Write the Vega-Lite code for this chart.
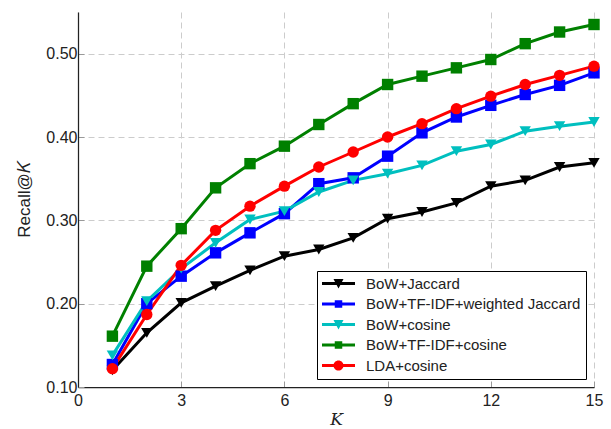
{
  "$schema": "https://vega.github.io/schema/vega-lite/v6.json",
  "width": 516,
  "height": 375,
  "autosize": {"type": "none"},
  "padding": {"left": 78, "top": 12, "right": 17, "bottom": 42},
  "background": "white",
  "config": {"view": {"stroke": null}},
  "data": {"values": [
    {"method": "BoW+Jaccard", "K": 1, "recall": 0.120},
    {"method": "BoW+Jaccard", "K": 2, "recall": 0.165},
    {"method": "BoW+Jaccard", "K": 3, "recall": 0.201},
    {"method": "BoW+Jaccard", "K": 4, "recall": 0.221},
    {"method": "BoW+Jaccard", "K": 5, "recall": 0.240},
    {"method": "BoW+Jaccard", "K": 6, "recall": 0.257},
    {"method": "BoW+Jaccard", "K": 7, "recall": 0.265},
    {"method": "BoW+Jaccard", "K": 8, "recall": 0.279},
    {"method": "BoW+Jaccard", "K": 9, "recall": 0.302},
    {"method": "BoW+Jaccard", "K": 10, "recall": 0.310},
    {"method": "BoW+Jaccard", "K": 11, "recall": 0.321},
    {"method": "BoW+Jaccard", "K": 12, "recall": 0.341},
    {"method": "BoW+Jaccard", "K": 13, "recall": 0.348},
    {"method": "BoW+Jaccard", "K": 14, "recall": 0.364},
    {"method": "BoW+Jaccard", "K": 15, "recall": 0.369},
    {"method": "BoW+TF-IDF+weighted Jaccard", "K": 1, "recall": 0.127},
    {"method": "BoW+TF-IDF+weighted Jaccard", "K": 2, "recall": 0.200},
    {"method": "BoW+TF-IDF+weighted Jaccard", "K": 3, "recall": 0.233},
    {"method": "BoW+TF-IDF+weighted Jaccard", "K": 4, "recall": 0.261},
    {"method": "BoW+TF-IDF+weighted Jaccard", "K": 5, "recall": 0.285},
    {"method": "BoW+TF-IDF+weighted Jaccard", "K": 6, "recall": 0.308},
    {"method": "BoW+TF-IDF+weighted Jaccard", "K": 7, "recall": 0.344},
    {"method": "BoW+TF-IDF+weighted Jaccard", "K": 8, "recall": 0.351},
    {"method": "BoW+TF-IDF+weighted Jaccard", "K": 9, "recall": 0.377},
    {"method": "BoW+TF-IDF+weighted Jaccard", "K": 10, "recall": 0.405},
    {"method": "BoW+TF-IDF+weighted Jaccard", "K": 11, "recall": 0.424},
    {"method": "BoW+TF-IDF+weighted Jaccard", "K": 12, "recall": 0.438},
    {"method": "BoW+TF-IDF+weighted Jaccard", "K": 13, "recall": 0.451},
    {"method": "BoW+TF-IDF+weighted Jaccard", "K": 14, "recall": 0.462},
    {"method": "BoW+TF-IDF+weighted Jaccard", "K": 15, "recall": 0.477},
    {"method": "BoW+cosine", "K": 1, "recall": 0.138},
    {"method": "BoW+cosine", "K": 2, "recall": 0.203},
    {"method": "BoW+cosine", "K": 3, "recall": 0.242},
    {"method": "BoW+cosine", "K": 4, "recall": 0.273},
    {"method": "BoW+cosine", "K": 5, "recall": 0.301},
    {"method": "BoW+cosine", "K": 6, "recall": 0.311},
    {"method": "BoW+cosine", "K": 7, "recall": 0.334},
    {"method": "BoW+cosine", "K": 8, "recall": 0.348},
    {"method": "BoW+cosine", "K": 9, "recall": 0.356},
    {"method": "BoW+cosine", "K": 10, "recall": 0.366},
    {"method": "BoW+cosine", "K": 11, "recall": 0.383},
    {"method": "BoW+cosine", "K": 12, "recall": 0.391},
    {"method": "BoW+cosine", "K": 13, "recall": 0.407},
    {"method": "BoW+cosine", "K": 14, "recall": 0.413},
    {"method": "BoW+cosine", "K": 15, "recall": 0.418},
    {"method": "BoW+TF-IDF+cosine", "K": 1, "recall": 0.161},
    {"method": "BoW+TF-IDF+cosine", "K": 2, "recall": 0.245},
    {"method": "BoW+TF-IDF+cosine", "K": 3, "recall": 0.290},
    {"method": "BoW+TF-IDF+cosine", "K": 4, "recall": 0.339},
    {"method": "BoW+TF-IDF+cosine", "K": 5, "recall": 0.368},
    {"method": "BoW+TF-IDF+cosine", "K": 6, "recall": 0.389},
    {"method": "BoW+TF-IDF+cosine", "K": 7, "recall": 0.415},
    {"method": "BoW+TF-IDF+cosine", "K": 8, "recall": 0.440},
    {"method": "BoW+TF-IDF+cosine", "K": 9, "recall": 0.463},
    {"method": "BoW+TF-IDF+cosine", "K": 10, "recall": 0.473},
    {"method": "BoW+TF-IDF+cosine", "K": 11, "recall": 0.483},
    {"method": "BoW+TF-IDF+cosine", "K": 12, "recall": 0.493},
    {"method": "BoW+TF-IDF+cosine", "K": 13, "recall": 0.512},
    {"method": "BoW+TF-IDF+cosine", "K": 14, "recall": 0.526},
    {"method": "BoW+TF-IDF+cosine", "K": 15, "recall": 0.535},
    {"method": "LDA+cosine", "K": 1, "recall": 0.122},
    {"method": "LDA+cosine", "K": 2, "recall": 0.187},
    {"method": "LDA+cosine", "K": 3, "recall": 0.246},
    {"method": "LDA+cosine", "K": 4, "recall": 0.288},
    {"method": "LDA+cosine", "K": 5, "recall": 0.317},
    {"method": "LDA+cosine", "K": 6, "recall": 0.341},
    {"method": "LDA+cosine", "K": 7, "recall": 0.364},
    {"method": "LDA+cosine", "K": 8, "recall": 0.382},
    {"method": "LDA+cosine", "K": 9, "recall": 0.400},
    {"method": "LDA+cosine", "K": 10, "recall": 0.416},
    {"method": "LDA+cosine", "K": 11, "recall": 0.434},
    {"method": "LDA+cosine", "K": 12, "recall": 0.449},
    {"method": "LDA+cosine", "K": 13, "recall": 0.463},
    {"method": "LDA+cosine", "K": 14, "recall": 0.474},
    {"method": "LDA+cosine", "K": 15, "recall": 0.485}
  ]},
  "encoding": {
    "x": {
      "field": "K", "type": "quantitative",
      "scale": {"domain": [0, 15], "nice": false, "zero": false},
      "axis": {
        "values": [0, 3, 6, 9, 12, 15],
        "title": "K", "titleFont": "DejaVu Serif", "titleFontStyle": "italic", "titleFontWeight": "normal",
        "titleFontSize": 17, "titleColor": "#222", "titlePadding": 3,
        "labelFont": "Liberation Sans", "labelFontSize": 16, "labelColor": "#222", "labelPadding": 11,
        "labelFlush": false,
        "grid": true, "gridDash": [6, 4], "gridColor": "#cccccc", "gridWidth": 1,
        "domainColor": "#222", "domainWidth": 1.25,
        "ticks": true, "tickSize": -6, "tickColor": "#999999", "tickWidth": 1
      }
    },
    "y": {
      "field": "recall", "type": "quantitative",
      "scale": {"domain": [0.1, 0.55], "nice": false, "zero": false},
      "axis": {
        "values": [0.1, 0.2, 0.3, 0.4, 0.5], "format": ".2f",
        "title": "Recall@𝐾", "titleFont": "Liberation Sans", "titleFontWeight": "normal",
        "titleFontSize": 17, "titleColor": "#222", "titlePadding": 12,
        "labelFont": "Liberation Sans", "labelFontSize": 16, "labelColor": "#222", "labelPadding": 7,
        "grid": true, "gridDash": [6, 4], "gridColor": "#cccccc", "gridWidth": 1,
        "domainColor": "#222", "domainWidth": 1.25,
        "ticks": true, "tickSize": -6, "tickColor": "#999999", "tickWidth": 1
      }
    }
  },
  "layer": [
    {
      "mark": {"type": "line", "strokeWidth": 3},
      "encoding": {
        "color": {"field": "method", "type": "nominal",
          "scale": {"domain": ["BoW+Jaccard", "BoW+TF-IDF+weighted Jaccard", "BoW+cosine", "BoW+TF-IDF+cosine", "LDA+cosine"],
                    "range": ["#000000", "#0000ff", "#00bfbf", "#008000", "#ff0000"]},
          "legend": null}
      }
    },
    {
      "mark": {"type": "point", "filled": true, "opacity": 1, "size": 130, "strokeWidth": 0},
      "encoding": {
        "color": {"field": "method", "type": "nominal",
          "scale": {"domain": ["BoW+Jaccard", "BoW+TF-IDF+weighted Jaccard", "BoW+cosine", "BoW+TF-IDF+cosine", "LDA+cosine"],
                    "range": ["#000000", "#0000ff", "#00bfbf", "#008000", "#ff0000"]},
          "legend": null},
        "shape": {"field": "method", "type": "nominal",
          "scale": {"domain": ["BoW+Jaccard", "BoW+TF-IDF+weighted Jaccard", "BoW+cosine", "BoW+TF-IDF+cosine", "LDA+cosine"],
                    "range": ["triangle-down", "square", "triangle-down", "square", "circle"]},
          "legend": null}
      }
    },
    {
      "transform": [{"filter": "datum.K < 0"}],
      "mark": {"type": "point", "filled": true, "opacity": 1, "size": 225, "strokeWidth": 0},
      "encoding": {
        "color": {"field": "method", "type": "nominal",
          "scale": {"domain": ["BoW+Jaccard", "BoW+TF-IDF+weighted Jaccard", "BoW+cosine", "BoW+TF-IDF+cosine", "LDA+cosine"],
                    "range": ["#000000", "#0000ff", "#00bfbf", "#008000", "#ff0000"]},
          "legend": {"title": null, "orient": "bottom-right", "offset": 8, "padding": 5,
            "strokeColor": "#000000", "fillColor": "#ffffff", "cornerRadius": 0,
            "labelFont": "Liberation Sans", "labelFontSize": 15, "labelColor": "#222", "labelOffset": 29,
            "rowPadding": 4.5, "symbolSize": 225, "symbolStrokeWidth": 0, "labelLimit": 400}},
        "shape": {"field": "method", "type": "nominal",
          "scale": {"domain": ["BoW+Jaccard", "BoW+TF-IDF+weighted Jaccard", "BoW+cosine", "BoW+TF-IDF+cosine", "LDA+cosine"],
                    "range": [
                      "M-1,-0.2H3.4V0.2H-1Z M0.53,-0.6L1.87,-0.6L1.2,0.67Z",
                      "M-1,-0.2H3.4V0.2H-1Z M0.7,-0.5H1.7V0.5H0.7Z",
                      "M-1,-0.2H3.4V0.2H-1Z M0.53,-0.6L1.87,-0.6L1.2,0.67Z",
                      "M-1,-0.2H3.4V0.2H-1Z M0.7,-0.5H1.7V0.5H0.7Z",
                      "M-1,-0.2H3.4V0.2H-1Z M0.53,0A0.67,0.67 0 1,1 1.87,0A0.67,0.67 0 1,1 0.53,0Z"
                    ]},
          "legend": {"title": null, "orient": "bottom-right", "offset": 8, "padding": 5,
            "strokeColor": "#000000", "fillColor": "#ffffff", "cornerRadius": 0,
            "labelFont": "Liberation Sans", "labelFontSize": 15, "labelColor": "#222", "labelOffset": 29,
            "rowPadding": 4.5, "symbolSize": 225, "symbolStrokeWidth": 0, "labelLimit": 400}}
      }
    }
  ],
  "resolve": {"scale": {"color": "independent", "shape": "independent"}}
}
